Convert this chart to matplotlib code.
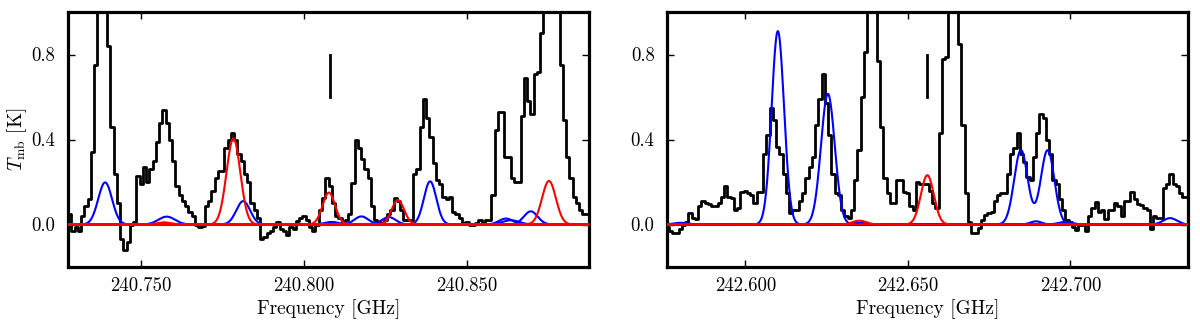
import numpy as np
import matplotlib
matplotlib.use("Agg")
import matplotlib.pyplot as plt
from matplotlib.ticker import FormatStrFormatter

plt.rcParams['font.family'] = ['cmr10', 'DejaVu Serif']
plt.rcParams['mathtext.fontset'] = 'cm'
plt.rcParams['axes.formatter.use_mathtext'] = True

# ---------------- data: left panel (240.7 GHz) ----------------
left_f0 = 240.728      # first channel centre [GHz]
left_dnu = 0.001       # channel width [GHz]
left_tmb = [0.05, -0.03, -0.01, -0.03, 0.04, 0.085, 0.12, 0.34, 0.75, 1.3,
            1.5, 1.3, 0.84, 0.46, 0.24, 0.10, -0.07, -0.12, -0.08, 0.0,
            0.01, 0.23, 0.19, 0.27, 0.20, 0.26, 0.30, 0.39, 0.48, 0.54,
            0.48, 0.40, 0.30, 0.18, 0.14, 0.11, 0.085, 0.06, 0.04, 0.0,
            -0.01, -0.005, 0.085, 0.11, 0.16, 0.22, 0.25, 0.25, 0.36, 0.40,
            0.43, 0.40, 0.33, 0.30, 0.24, 0.20, 0.10, 0.07, 0.03, -0.07,
            -0.06, -0.04, -0.03, -0.01, 0.01, -0.02, -0.03, -0.05, -0.01, -0.02,
            0.015, 0.03, 0.04, 0.02, -0.01, -0.03, 0.0, 0.07, 0.125, 0.22,
            0.18, 0.10, 0.04, 0.03, 0.01, 0.02, 0.05, 0.195, 0.40, 0.36,
            0.31, 0.26, 0.22, 0.086, 0.02, 0.01, 0.005, 0.02, 0.05, 0.07,
            0.125, 0.11, 0.07, 0.02, 0.02, 0.02, 0.24, 0.26, 0.46, 0.59,
            0.50, 0.41, 0.29, 0.21, 0.19, 0.13, 0.12, 0.13, 0.06, 0.05,
            0.03, 0.005, 0.01, -0.003, -0.003, 0.005, 0.02, 0.005, 0.02, 0.02,
            0.14, 0.445, 0.53, 0.53, 0.32, 0.32, 0.22, 0.20, 0.20, 0.51,
            0.69, 0.58, 0.52, 0.71, 0.72, 0.90, 1.3, 1.5, 1.5, 1.4,
            1.2, 0.75, 0.49, 0.32, 0.22, 0.13, 0.10, 0.07, 0.05, 0.05]
left_blue_nu = [240.7389, 240.7578, 240.7813, 240.8085, 240.8176, 240.8260,
                240.8387, 240.8620, 240.8635, 240.8696]
left_blue_amp = [0.198, 0.037, 0.11, 0.012, 0.038, 0.035, 0.203, 0.028, 0.02, 0.062]
left_blue_fwhm = [5.0, 6.0, 5.0, 5.0, 5.0, 5.0, 4.5, 5.0, 6.0, 5.0]   # MHz
left_red_nu = [240.7570, 240.7783, 240.8076, 240.8288, 240.8752]
left_red_amp = [0.01, 0.405, 0.15, 0.115, 0.205]
left_red_fwhm = [5.0, 5.0, 4.5, 4.5, 5.0]
left_marker_nu = 240.8079
left_xlim = (240.7275, 240.8875)
left_xticks = [240.750, 240.800, 240.850]

# ---------------- data: right panel (242.6 GHz) ----------------
right_f0 = 242.576
right_dnu = 0.001
right_tmb = [-0.01, -0.03, -0.04, -0.04, -0.02, 0.0, 0.01, 0.055, 0.03, 0.025,
             0.085, 0.11, 0.10, 0.095, 0.085, 0.085, 0.10, 0.13, 0.18, 0.13,
             0.125, 0.07, 0.08, 0.155, 0.16, 0.15, 0.14, 0.10, 0.155, 0.155,
             0.33, 0.42, 0.55, 0.49, 0.365, 0.33, 0.24, 0.15, 0.055, 0.07,
             0.07, 0.11, 0.15, 0.22, 0.27, 0.32, 0.47, 0.59, 0.71, 0.57,
             0.42, 0.24, 0.15, 0.14, 0.07, 0.04, 0.03, 0.07, 0.21, 0.35,
             0.60, 0.81, 1.3, 1.5, 1.3, 0.77, 0.46, 0.22, 0.15, 0.10,
             0.10, 0.21, 0.21, 0.155, 0.15, 0.085, 0.07, 0.20, 0.19, 0.19,
             0.19, 0.16, 0.10, 0.08, 0.43, 0.78, 0.79, 1.3, 1.5, 1.2,
             0.85, 0.47, 0.15, 0.01, -0.04, -0.04, -0.015, 0.02, 0.045, 0.055,
             0.06, 0.11, 0.14, 0.15, 0.15, 0.24, 0.33, 0.36, 0.43, 0.33,
             0.295, 0.225, 0.21, 0.32, 0.43, 0.52, 0.50, 0.40, 0.33, 0.21,
             0.19, 0.12, 0.07, 0.02, 0.01, -0.01, -0.025, 0.0, 0.0, -0.03,
             0.04, 0.08, 0.105, 0.06, 0.07, 0.026, 0.07, 0.07, 0.10, 0.085,
             0.04, 0.11, 0.11, 0.155, 0.12, 0.095, 0.09, 0.08, 0.07, -0.02,
             0.04, 0.03, 0.03, 0.17, 0.19, 0.24, 0.19, 0.18, 0.15, 0.13,
             0.13]
right_blue_nu = [242.5800, 242.6100, 242.6254, 242.6350, 242.6894, 242.6985, 242.7307]
right_blue_amp = [0.008, 0.91, 0.615, 0.008, 0.015, 0.012, 0.03]
right_blue_fwhm = [5.0, 4.5, 5.0, 5.0, 4.0, 5.0, 5.0]
right_blend_nu = [242.6848, 242.6930]       # blue blend drawn as one curve
right_blend_amp = [0.35, 0.35]
right_blend_fwhm = [4.9, 4.9]
right_red_nu = [242.6351, 242.6560]
right_red_amp = [0.018, 0.232]
right_red_fwhm = [5.0, 4.7]
right_marker_nu = 242.6560
right_xlim = (242.5759, 242.7362)
right_xticks = [242.600, 242.650, 242.700]

marker_y = (0.6, 0.8)
ylim = (-0.2, 1.0)
yticks = [0.0, 0.4, 0.8]


def gauss(nu, c, a, fwhm_mhz):
    s = fwhm_mhz * 1e-3 / (2.0 * np.sqrt(2.0 * np.log(2.0)))
    return a * np.exp(-0.5 * ((nu - c) / s) ** 2)


fig = plt.figure(figsize=(12, 3.3), dpi=100)
ax_l = fig.add_axes([68 / 1200, 1 - 267 / 330, 521 / 1200, 255 / 330])
ax_r = fig.add_axes([667 / 1200, 1 - 267 / 330, 521 / 1200, 255 / 330])

panels = [
    (ax_l, left_f0, left_dnu, left_tmb, left_xlim, left_xticks,
     [(left_blue_nu[i], left_blue_amp[i], left_blue_fwhm[i]) for i in range(len(left_blue_nu))],
     [], [(left_red_nu[i], left_red_amp[i], left_red_fwhm[i]) for i in range(len(left_red_nu))],
     left_marker_nu),
    (ax_r, right_f0, right_dnu, right_tmb, right_xlim, right_xticks,
     [(right_blue_nu[i], right_blue_amp[i], right_blue_fwhm[i]) for i in range(len(right_blue_nu))],
     [list(zip(right_blend_nu, right_blend_amp, right_blend_fwhm))],
     [(right_red_nu[i], right_red_amp[i], right_red_fwhm[i]) for i in range(len(right_red_nu))],
     right_marker_nu),
]

for ax, f0, dnu, tmb, xlim, xticks, blues, blends, reds, mnu in panels:
    nu = f0 + dnu * np.arange(len(tmb))
    ax.plot(nu, tmb, drawstyle='steps-mid', color='black', lw=2.0, zorder=2)
    grid = np.linspace(xlim[0], xlim[1], 2000)
    for c, a, w in blues:
        ax.plot(grid, gauss(grid, c, a, w), color='#0000ff', lw=1.5, zorder=3)
    for comp in blends:
        y = np.zeros_like(grid)
        for c, a, w in comp:
            y += gauss(grid, c, a, w)
        ax.plot(grid, y, color='#0000ff', lw=1.5, zorder=3)
    for c, a, w in reds:
        ax.plot(grid, gauss(grid, c, a, w), color='#ff0000', lw=1.5, zorder=4)
    ax.plot([mnu, mnu], marker_y, color='black', lw=2.0, zorder=5)

    ax.set_xlim(*xlim)
    ax.set_ylim(*ylim)
    ax.set_xticks(xticks)
    ax.set_yticks(yticks)
    ax.xaxis.set_major_formatter(FormatStrFormatter('%.3f'))
    ax.yaxis.set_major_formatter(FormatStrFormatter('%.1f'))
    ax.tick_params(direction='in', top=True, right=True, length=5, width=1,
                   labelsize=13.5)
    ax.tick_params(axis='x', pad=7)
    ax.tick_params(axis='y', pad=9)
    for sp in ax.spines.values():
        sp.set_linewidth(2.3)
    ax.set_xlabel('Frequency [GHz]', fontsize=14, labelpad=3)

ax_l.set_ylabel(r'$T_{\rm mb}$ [K]', fontsize=14, labelpad=2)

fig.savefig('out.png', dpi=100)
